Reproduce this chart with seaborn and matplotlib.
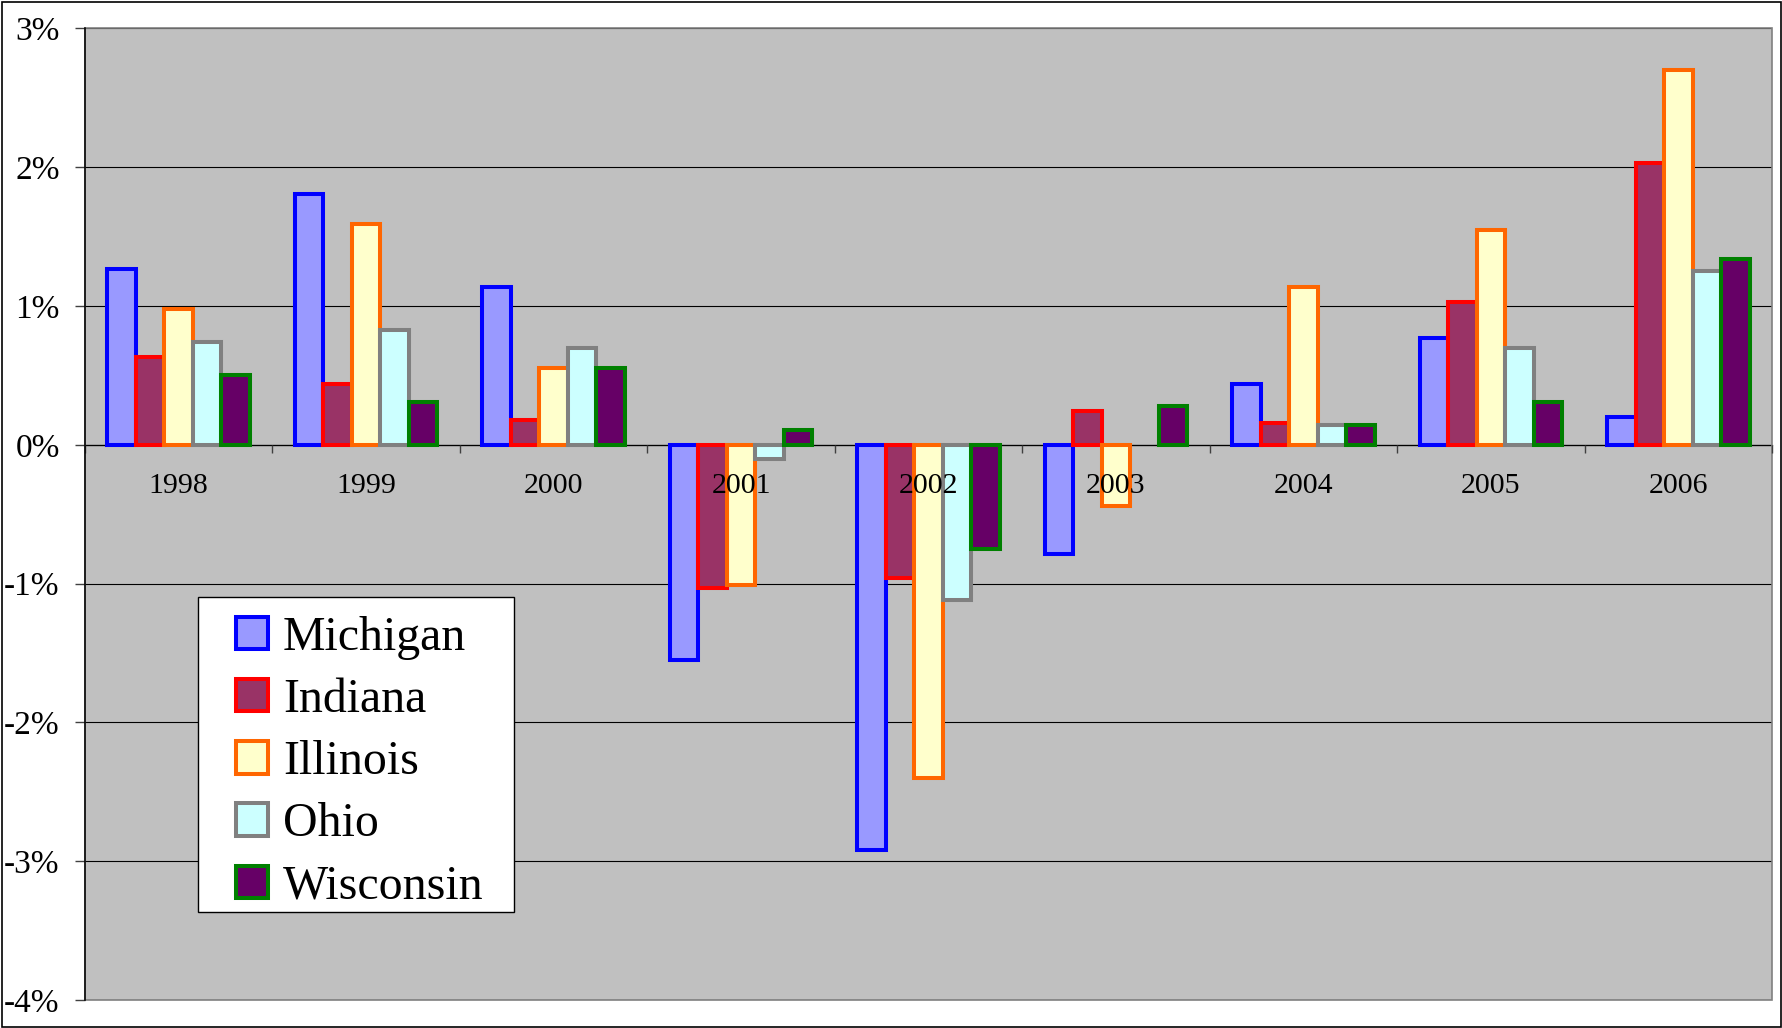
import numpy as np
import pandas as pd
import matplotlib
matplotlib.use("Agg")
import matplotlib.pyplot as plt
from matplotlib.patches import Rectangle, Patch
from matplotlib.legend_handler import HandlerPatch
import seaborn as sns

# Annual change by state, percent
years = ["1998", "1999", "2000", "2001", "2002", "2003", "2004", "2005", "2006"]
states = ["Michigan", "Indiana", "Illinois", "Ohio", "Wisconsin"]
michigan = [1.27, 1.81, 1.14, -1.55, -2.92, -0.79, 0.44, 0.77, 0.20]
indiana = [0.63, 0.44, 0.18, -1.03, -0.96, 0.24, 0.16, 1.03, 2.03]
illinois = [0.98, 1.59, 0.55, -1.01, -2.40, -0.44, 1.14, 1.55, 2.70]
ohio = [0.74, 0.83, 0.70, -0.10, -1.12, np.nan, 0.14, 0.70, 1.25]
wisconsin = [0.50, 0.31, 0.55, 0.11, -0.75, 0.28, 0.14, 0.31, 1.34]

y_ticks = [-4, -3, -2, -1, 0, 1, 2, 3]
y_tick_labels = ["-4%", "-3%", "-2%", "-1%", "0%", "1%", "2%", "3%"]

fill_colors = ["#9999FF", "#993366", "#FFFFCC", "#CCFFFF", "#660066"]
edge_colors = ["#0000FF", "#FF0000", "#FF6600", "#808080", "#008000"]

series = [michigan, indiana, illinois, ohio, wisconsin]
df = pd.DataFrame(
    [(y, s, v) for s, vals in zip(states, series) for y, v in zip(years, vals)],
    columns=["year", "state", "value"],
)

plt.rcParams["font.family"] = ["Liberation Serif", "DejaVu Serif"]

W, H = 1782, 1028
fig = plt.figure(figsize=(W / 100, H / 100), dpi=100)
fig.patch.set_facecolor("white")
ax = fig.add_axes([85 / W, 1 - 1000 / H, (1772 - 85) / W, (1000 - 28.4) / H])
ax.set_facecolor("#C0C0C0")

# horizontal gridlines behind the bars
for t in y_ticks:
    ax.axhline(t, color="#000000", lw=0.8, zorder=0.5)

sns.barplot(
    data=df, x="year", y="value", hue="state", order=years, hue_order=states,
    palette=fill_colors, saturation=1, width=0.76, errorbar=None,
    legend=False, ax=ax,
)
bar_lw = 2.9
for cont, ec in zip(ax.containers, edge_colors):
    for bar in cont:
        bar.set_edgecolor(ec)
        bar.set_linewidth(bar_lw)
        bar.set_joinstyle("miter")

ax.set_xlim(-0.5, len(years) - 0.5)
ax.set_ylim(y_ticks[0], y_ticks[-1])
ax.set_xlabel("")
ax.set_ylabel("")

# value axis
ax.set_yticks(y_ticks, y_tick_labels)
ax.tick_params(axis="y", direction="out", length=7.2, width=1.0, color="#404040",
               pad=11, labelsize=24)

# category axis crossing at zero
ax.spines["bottom"].set_position(("data", 0))
ax.spines["bottom"].set_color("#000000")
ax.spines["bottom"].set_linewidth(0.9)
ax.spines["bottom"].set_zorder(0.6)
ax.spines["left"].set_color("#000000")
ax.spines["left"].set_linewidth(1.1)
ax.spines["top"].set_visible(False)
ax.spines["right"].set_visible(False)
ax.set_xticks(range(len(years)), years)
ax.set_xticks(np.arange(-0.5, len(years), 1.0), minor=True)
ax.tick_params(axis="x", which="major", length=0, pad=20, labelsize=21.5)
ax.tick_params(axis="x", which="minor", direction="out", length=5.8, width=1.0,
               color="#404040")

# plot-area border
ax.add_patch(Rectangle((0, 0), 1, 1, transform=ax.transAxes, fill=False,
                       edgecolor="#808080", lw=1.2, zorder=0.7, clip_on=False))

# legend box with its entries
ax.add_patch(Rectangle((198 / W, 1 - 912 / H), (514 - 198) / W, (912 - 597) / H,
                       transform=fig.transFigure, facecolor="white",
                       edgecolor="#000000", lw=1.0, zorder=4, clip_on=False))
handles = [Patch(facecolor=fc, edgecolor=ec, linewidth=bar_lw, joinstyle="miter")
           for fc, ec in zip(fill_colors, edge_colors)]
leg = ax.legend(
    handles, states, loc="upper left",
    bbox_to_anchor=(198 / W, 1 - 599 / H), bbox_transform=fig.transFigure,
    borderaxespad=0, fontsize=34.5, frameon=False,
    borderpad=0.35, labelspacing=0.38, handlelength=1.12, handleheight=0.66,
    handletextpad=0.3,
    handler_map={Patch: HandlerPatch(xpad=0.44)},
)
leg.set_zorder(5)

# chart-area border
fig.add_artist(Rectangle((1.5 / W, 1.5 / H), (W - 3) / W, (H - 3) / H,
                         transform=fig.transFigure, fill=False,
                         edgecolor="#000000", lw=1.2))

fig.savefig("out.png", dpi=100)
